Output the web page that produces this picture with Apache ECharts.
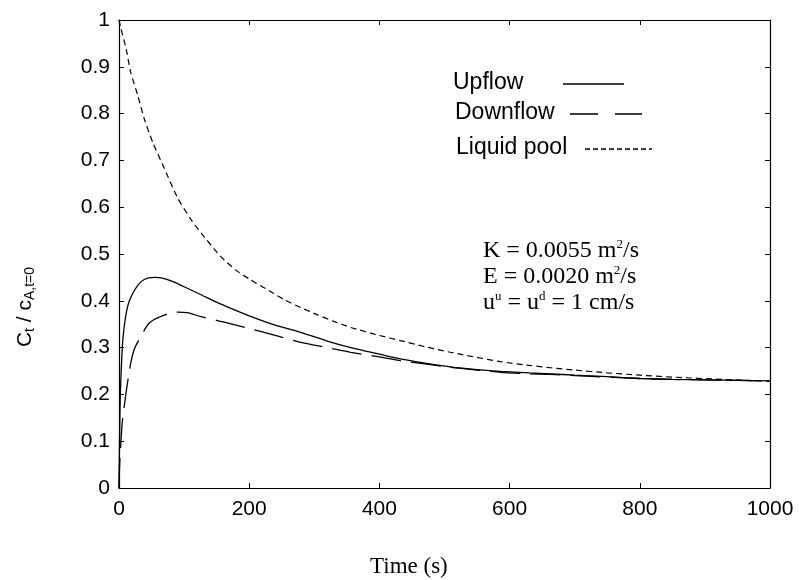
<!DOCTYPE html>
<html>
<head>
<meta charset="utf-8">
<script src="https://cdn.jsdelivr.net/npm/echarts@6/dist/echarts.min.js"></script>
<style>
    html, body { margin: 0; padding: 0; background: #fff; }
    #report { width: 799px; height: 580px; }
</style>
</head>
<body>
<div id="report"></div>
<script>
var upTime = [0, 1, 2, 5, 8, 12, 16, 24, 34, 45, 55, 65, 83, 100, 126, 150, 170, 200, 240, 280, 320, 356, 400, 432, 470, 509, 550, 586, 630, 663, 700, 750, 801, 850, 900, 950, 1000];
var upflow = [0, 0.12, 0.2, 0.3, 0.345, 0.38, 0.40, 0.423, 0.441, 0.449, 0.45, 0.449, 0.441, 0.43, 0.413, 0.397, 0.385, 0.368, 0.348, 0.332, 0.314, 0.300, 0.286, 0.276, 0.267, 0.259, 0.253, 0.249, 0.246, 0.244, 0.241, 0.238, 0.234, 0.232, 0.231, 0.230, 0.229];

var downTime = [0, 1, 3, 5, 8, 12, 18, 23, 28, 34, 40, 46, 54, 62, 75, 90, 107, 126, 150, 169, 200, 240, 279, 320, 356, 400, 432, 470, 509, 550, 586, 630, 663, 700, 750, 800, 850, 900, 950, 1000];
var downflow = [0, 0.05, 0.1, 0.14, 0.174, 0.215, 0.267, 0.295, 0.31, 0.324, 0.34, 0.352, 0.36, 0.365, 0.372, 0.376, 0.374, 0.366, 0.358, 0.352, 0.341, 0.326, 0.311, 0.300, 0.290, 0.280, 0.272, 0.265, 0.258, 0.252, 0.247, 0.244, 0.243, 0.240, 0.237, 0.234, 0.232, 0.231, 0.230, 0.229];

var poolTime = [0, 3, 11, 18, 29, 39, 52, 68, 90, 110, 126, 156, 180, 202, 230, 253, 280, 305, 330, 356, 400, 432, 470, 509, 550, 586, 630, 663, 700, 750, 801, 850, 928, 1000];
var pool = [1.0, 0.982, 0.938, 0.888, 0.838, 0.788, 0.738, 0.688, 0.62, 0.575, 0.545, 0.495, 0.465, 0.445, 0.422, 0.403, 0.385, 0.37, 0.356, 0.343, 0.326, 0.315, 0.302, 0.29, 0.279, 0.270, 0.262, 0.257, 0.252, 0.246, 0.241, 0.237, 0.232, 0.228];

var xTicks = [0, 200, 400, 600, 800, 1000];
var yTicks = [0, 0.1, 0.2, 0.3, 0.4, 0.5, 0.6, 0.7, 0.8, 0.9, 1];

function pairs(t, v) {
    return t.map(function (x, i) { return [x, v[i]]; });
}

var sans = 'Liberation Sans';
var serif = 'Liberation Serif';

var myChart = echarts.init(document.getElementById('report'));

// tick marks point inward, on all four sides
var tickStyle = { show: true, inside: true, length: 5, lineStyle: { color: '#000', width: 1 } };
var lineStyleAxis = { show: true, onZero: false, lineStyle: { color: '#000', width: 1.2 } };

var option = {
    animation: false,
    backgroundColor: '#fff',
    grid: { left: 119, right: 29, top: 20, bottom: 92 },
    xAxis: [{
        type: 'value', min: xTicks[0], max: xTicks[xTicks.length - 1], interval: 200,
        axisLine: lineStyleAxis, axisTick: tickStyle, splitLine: { show: false },
        axisLabel: { color: '#000', fontFamily: sans, fontSize: 21, margin: 11,
            formatter: function (v) { return String(v); } }
    }, {
        type: 'value', position: 'top', min: 0, max: 1000, interval: 200,
        axisLine: lineStyleAxis, axisTick: tickStyle, splitLine: { show: false },
        axisLabel: { show: false }
    }],
    yAxis: [{
        type: 'value', min: yTicks[0], max: yTicks[yTicks.length - 1], interval: 0.1,
        axisLine: lineStyleAxis, axisTick: tickStyle, splitLine: { show: false },
        axisLabel: { color: '#000', fontFamily: sans, fontSize: 21, margin: 9,
            formatter: function (v) { return String(Math.round(v * 10) / 10); } }
    }, {
        type: 'value', position: 'right', min: 0, max: 1, interval: 0.1,
        axisLine: lineStyleAxis, axisTick: tickStyle, splitLine: { show: false },
        axisLabel: { show: false }
    }],
    series: [{
        name: 'Upflow', type: 'line', showSymbol: false, smooth: 0.2,
        data: pairs(upTime, upflow),
        lineStyle: { color: '#000', width: 1.3, type: 'solid' }
    }, {
        name: 'Downflow', type: 'line', showSymbol: false, smooth: 0.2,
        data: pairs(downTime, downflow),
        lineStyle: { color: '#000', width: 1.3, type: [30, 10] }
    }, {
        name: 'Liquid pool', type: 'line', showSymbol: false, smooth: 0.2,
        data: pairs(poolTime, pool),
        lineStyle: { color: '#000', width: 1.2, type: [6, 4] }
    }],
    graphic: [
        // legend
        { type: 'text', left: 453, top: 71, style: { text: 'Upflow', fontFamily: sans, fontSize: 23, fill: '#000' } },
        { type: 'line', shape: { x1: 563, y1: 84, x2: 624, y2: 84 }, style: { stroke: '#000', lineWidth: 1.5 } },
        { type: 'text', left: 455, top: 101, style: { text: 'Downflow', fontFamily: sans, fontSize: 23, fill: '#000' } },
        { type: 'line', shape: { x1: 570, y1: 114, x2: 642, y2: 114 }, style: { stroke: '#000', lineWidth: 1.5, lineDash: [28, 17] } },
        { type: 'text', left: 456, top: 136, style: { text: 'Liquid pool', fontFamily: sans, fontSize: 23, fill: '#000' } },
        { type: 'line', shape: { x1: 585, y1: 149, x2: 652, y2: 149 }, style: { stroke: '#000', lineWidth: 1.5, lineDash: [5, 3] } },
        // parameters
        {
            type: 'text', left: 483, top: 238,
            style: {
                text: 'K = 0.0055 m{sup|2}/s\nE = 0.0020 m{sup|2}/s\nu{sup|u} = u{sup|d} = 1 cm/s',
                fontFamily: serif, fontSize: 24, lineHeight: 26, fill: '#000',
                rich: {
                    sup: { fontFamily: serif, fontSize: 13, verticalAlign: 'top', lineHeight: 26, padding: [0, 0, 10, 0] }
                }
            }
        },
        // axis titles
        {
            type: 'text', x: 25, y: 307, rotation: Math.PI / 2,
            style: {
                text: 'C{sub|t} / c{sub|A,t=0}', fontFamily: sans, fontSize: 21, fill: '#000',
                align: 'center', verticalAlign: 'middle',
                rich: { sub: { fontFamily: sans, fontSize: 14, padding: [10, 0, 0, 0] } }
            }
        },
        {
            type: 'text', left: 370, top: 555,
            style: { text: 'Time (s)', fontFamily: serif, fontSize: 23, fill: '#000' }
        }
    ]
};

myChart.setOption(option);
</script>
</body>
</html>
